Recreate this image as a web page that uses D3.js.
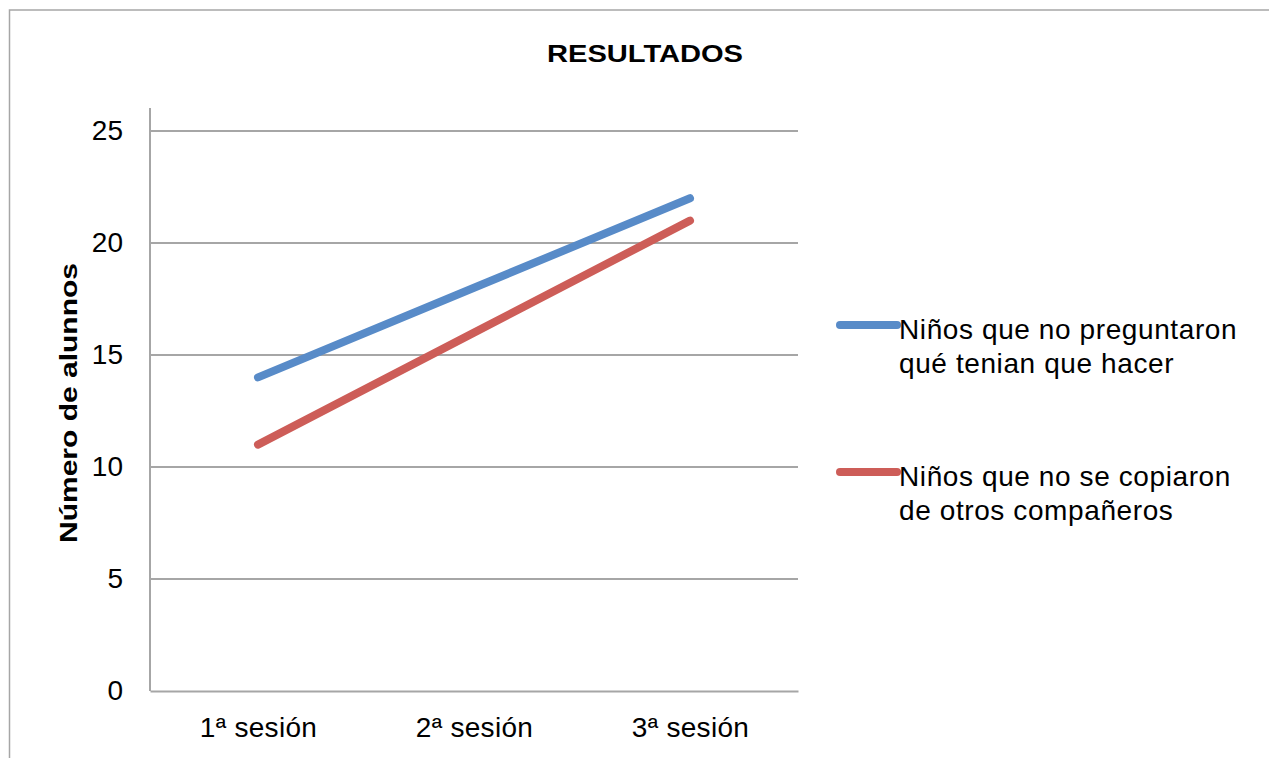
<!DOCTYPE html>
<html>
<head>
<meta charset="utf-8">
<script src="https://cdn.jsdelivr.net/npm/d3@7"></script>
<style>
  body { margin: 0; background: #fff; }
  svg { display: block; font-family: "Liberation Sans", Arial, sans-serif; }
</style>
</head>
<body>
<svg width="1269" height="758"></svg>
<script>
var sessions = ["1ª sesión", "2ª sesión", "3ª sesión"];
var noPreguntaron = [14, 18, 22];
var noCopiaron = [11, 16, 21];
var yTicks = [0, 5, 10, 15, 20, 25];
var seriesNames = [
  ["Niños que no preguntaron", "qué tenian que hacer"],
  ["Niños que no se copiaron", "de otros compañeros"]
];
var seriesColors = ["#588BC8", "#CD5D58"];

var svg = d3.select("svg"),
    margin = {top: 131, right: 471, bottom: 67, left: 150},
    width = +svg.attr("width") - margin.left - margin.right,
    height = +svg.attr("height") - margin.top - margin.bottom;

// outer chart frame (runs off the right and bottom edge)
svg.append("rect")
    .attr("x", 9.5).attr("y", 10)
    .attr("width", 1300).attr("height", 800)
    .attr("fill", "none")
    .attr("stroke", "#a6a6a6")
    .attr("stroke-width", 1.5);

var g = svg.append("g").attr("transform", "translate(" + margin.left + "," + margin.top + ")");

var x = d3.scalePoint()
    .domain(sessions)
    .range([0, width])
    .padding(0.5);

var y = d3.scaleLinear()
    .domain([0, 25])
    .range([height, 0]);

// gridlines
g.append("g")
    .selectAll("line")
    .data(yTicks.slice(1))
    .join("line")
    .attr("x1", 0).attr("x2", width)
    .attr("y1", d => y(d)).attr("y2", d => y(d))
    .attr("stroke", "#a6a6a6")
    .attr("stroke-width", 2);

// y axis
var yAxis = g.append("g")
    .call(d3.axisLeft(y).tickValues(yTicks).tickSize(0).tickPadding(27));
yAxis.select(".domain").remove();
yAxis.selectAll("text")
    .attr("font-size", 28)
    .attr("font-family", "Liberation Sans, Arial, sans-serif")
    .attr("fill", "#000");
g.append("line")
    .attr("x1", 0).attr("x2", 0)
    .attr("y1", -23).attr("y2", height)
    .attr("stroke", "#a6a6a6")
    .attr("stroke-width", 2);

// x axis
var xAxis = g.append("g")
    .attr("transform", "translate(0," + height + ")")
    .call(d3.axisBottom(x).tickSize(0).tickPadding(26));
xAxis.select(".domain")
    .attr("stroke", "#a6a6a6")
    .attr("stroke-width", 2);
xAxis.selectAll("text")
    .attr("font-size", 28)
    .attr("letter-spacing", 0.3)
    .attr("font-family", "Liberation Sans, Arial, sans-serif")
    .attr("fill", "#000");

// lines
var line = d3.line()
    .x((d, i) => x(sessions[i]))
    .y(d => y(d));

[noPreguntaron, noCopiaron].forEach(function(s, i) {
  g.append("path")
      .datum(s)
      .attr("d", line)
      .attr("fill", "none")
      .attr("stroke", seriesColors[i])
      .attr("stroke-width", 8)
      .attr("stroke-linecap", "round")
      .attr("stroke-linejoin", "round");
});

// title
svg.append("text")
    .attr("x", 645).attr("y", 62)
    .attr("text-anchor", "middle")
    .attr("font-size", 24)
    .attr("font-weight", "bold")
    .attr("textLength", 196)
    .attr("lengthAdjust", "spacingAndGlyphs")
    .text("RESULTADOS");

// y axis title
svg.append("text")
    .attr("transform", "translate(77,403) rotate(-90)")
    .attr("text-anchor", "middle")
    .attr("font-size", 24)
    .attr("font-weight", "bold")
    .attr("textLength", 280)
    .attr("lengthAdjust", "spacingAndGlyphs")
    .text("Número de alunnos");

// legend
var legend = svg.append("g").attr("transform", "translate(840,325)");
var item = legend.selectAll("g")
    .data(seriesNames)
    .join("g")
    .attr("transform", (d, i) => "translate(0," + i * 147 + ")");
item.append("line")
    .attr("x1", 0).attr("x2", 57)
    .attr("stroke", (d, i) => seriesColors[i])
    .attr("stroke-width", 8)
    .attr("stroke-linecap", "round");
item.append("text")
    .attr("font-size", 28)
    .attr("letter-spacing", 0.6)
    .selectAll("tspan")
    .data(d => d)
    .join("tspan")
    .attr("x", 59)
    .attr("y", (d, i) => 14 + i * 34)
    .text(d => d);
</script>
</body>
</html>
